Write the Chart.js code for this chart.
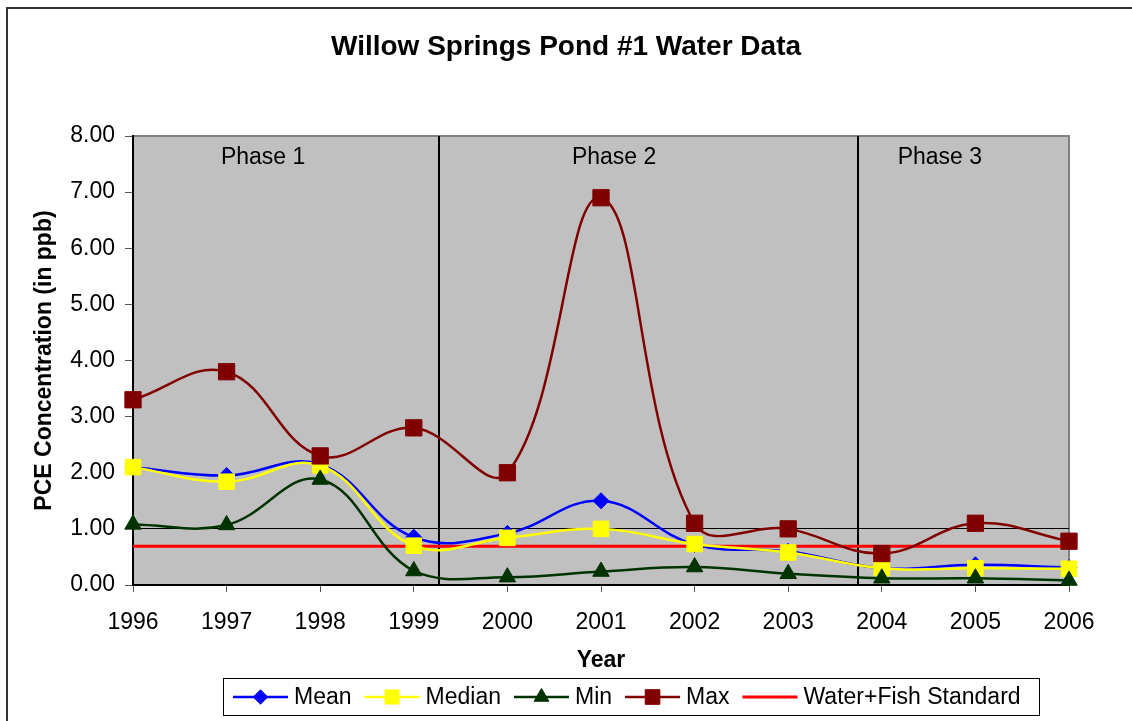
<!DOCTYPE html>
<html>
<head>
<meta charset="utf-8">
<title>Willow Springs Pond #1 Water Data</title>
<script src="https://cdn.jsdelivr.net/npm/chart.js@4.4.1/dist/chart.umd.min.js"></script>
<style>
  html, body { margin: 0; padding: 0; background: #fff; }
  canvas { display: block; }
</style>
</head>
<body>
<canvas id="pondChart" width="1132" height="721"></canvas>
<script>
// DATA
const chartTitle = 'Willow Springs Pond #1 Water Data';
const years = ['1996','1997','1998','1999','2000','2001','2002','2003','2004','2005','2006'];
const meanVals   = [2.10, 1.95, 2.15, 0.85, 0.92, 1.50, 0.72, 0.60, 0.30, 0.36, 0.31];
const medianVals = [2.10, 1.84, 2.13, 0.70, 0.84, 1.00, 0.73, 0.58, 0.30, 0.30, 0.29];
const minVals    = [1.08, 1.07, 1.88, 0.25, 0.14, 0.24, 0.32, 0.20, 0.12, 0.12, 0.08];
const maxVals    = [3.30, 3.80, 2.30, 2.80, 2.00, 6.90, 1.10, 1.00, 0.56, 1.10, 0.78];
const standardVals = [0.69, 0.69, 0.69, 0.69, 0.69, 0.69, 0.69, 0.69, 0.69, 0.69, 0.69];
const yTickValues = [0, 1, 2, 3, 4, 5, 6, 7, 8];
const phaseBounds = [1999.27, 2003.75];   // fractional years
const phaseNames = ['Phase 1', 'Phase 2', 'Phase 3'];

const FONT = "'Liberation Sans', Arial, sans-serif";

// FONDO, MARCO Y TITULO
const frame = {
    id: 'frame',
    beforeDraw(chart) {
        const { ctx, chartArea: a } = chart;
        ctx.save();
        ctx.fillStyle = '#fff';
        ctx.fillRect(0, 0, chart.width, chart.height);
        ctx.strokeStyle = '#333';
        ctx.lineWidth = 2;
        ctx.strokeRect(7, 8, chart.width + 20, chart.height + 20);

        ctx.fillStyle = '#c0c0c0';
        ctx.fillRect(a.left, a.top, a.right - a.left, a.bottom - a.top);
        ctx.strokeStyle = '#808080';
        ctx.strokeRect(a.left, a.top, a.right - a.left, a.bottom - a.top);

        ctx.fillStyle = '#000';
        ctx.font = 'bold 28px ' + FONT;
        ctx.textAlign = 'center';
        ctx.textBaseline = 'middle';
        ctx.fillText(chartTitle, 566, 47);
        ctx.restore();
    }
};

// FASES
const phases = {
    id: 'phases',
    beforeDatasetsDraw(chart, args, opts) {
        const { ctx, chartArea: a, scales: { x } } = chart;
        const first = Number(years[0]);
        ctx.save();
        ctx.strokeStyle = '#000';
        ctx.lineWidth = 2;
        phaseBounds.forEach(b => {
            const px = Math.round(x.getPixelForValue(b - first));
            ctx.beginPath();
            ctx.moveTo(px, a.top);
            ctx.lineTo(px, a.bottom);
            ctx.stroke();
        });
        ctx.fillStyle = '#000';
        ctx.font = '23px ' + FONT;
        ctx.textAlign = 'center';
        ctx.textBaseline = 'middle';
        phaseNames.forEach((name, i) => {
            ctx.fillText(name, x.getPixelForValue(opts.labelAt[i] - first), a.top + 22);
        });
        ctx.restore();
    }
};

// LEYENDA
const boxLegend = {
    id: 'boxLegend',
    afterDraw(chart) {
        const ctx = chart.ctx;
        const cy = 697;
        ctx.save();
        ctx.fillStyle = '#fff';
        ctx.fillRect(223, 678, 816, 37);
        ctx.strokeStyle = '#000';
        ctx.lineWidth = 1;
        ctx.strokeRect(223.5, 678.5, 816, 37);
        ctx.font = '23px ' + FONT;
        ctx.textBaseline = 'middle';
        ctx.textAlign = 'left';
        let x = 233;
        chart.data.datasets.forEach(ds => {
            ctx.strokeStyle = ds.borderColor;
            ctx.fillStyle = ds.backgroundColor;
            ctx.lineWidth = ds.borderWidth;
            ctx.beginPath();
            ctx.moveTo(x, cy);
            ctx.lineTo(x + 55, cy);
            ctx.stroke();
            if (ds.pointRadius > 0) {
                ctx.lineWidth = 1;
                Chart.helpers.drawPoint(ctx, {
                    pointStyle: ds.pointStyle, radius: ds.pointRadius * 0.9,
                    rotation: 0, borderWidth: 1
                }, x + 27.5, cy);
            }
            ctx.fillStyle = '#000';
            ctx.fillText(ds.label, x + 61, cy + 1);
            x += 61 + ctx.measureText(ds.label).width + 13;
        });
        ctx.restore();
    }
};

const ctx = document.getElementById('pondChart');

new Chart(ctx, {
    type: 'line',
    data: {
        labels: years,
        datasets: [
            {
                label: 'Mean', data: meanVals,
                borderColor: '#0000ff', backgroundColor: '#0000ff',
                pointStyle: 'rectRot', pointRadius: 8, pointBorderWidth: 1,
                borderWidth: 2.5, tension: 0.4, clip: false, order: 4
            },
            {
                label: 'Median', data: medianVals,
                borderColor: '#ffff00', backgroundColor: '#ffff00',
                pointStyle: 'rect', pointRadius: 11, pointBorderWidth: 1,
                borderWidth: 2.5, tension: 0.4, clip: false, order: 3
            },
            {
                label: 'Min', data: minVals,
                borderColor: '#003300', backgroundColor: '#003300',
                pointStyle: 'triangle', pointRadius: 9.5, pointBorderWidth: 1,
                borderWidth: 2.5, tension: 0.4, clip: false, order: 2
            },
            {
                label: 'Max', data: maxVals,
                borderColor: '#800000', backgroundColor: '#800000',
                pointStyle: 'rect', pointRadius: 11.5, pointBorderWidth: 1,
                borderWidth: 2.5, tension: 0.4, clip: false, order: 1
            },
            {
                label: 'Water+Fish Standard', data: standardVals,
                borderColor: '#ff0000', backgroundColor: '#ff0000',
                pointRadius: 0, borderWidth: 3, tension: 0, order: 5
            }
        ]
    },
    options: {
        responsive: false,
        animation: false,
        events: [],
        layout: { padding: { left: 0, right: 63, top: 136, bottom: 43 } },
        plugins: {
            legend: { display: false },
            title: { display: false },
            tooltip: { enabled: false },
            phases: { labelAt: [1997.39, 2001.14, 2004.62] }
        },
        scales: {
            x: {
                type: 'category',
                offset: false,
                grid: { drawOnChartArea: false, tickLength: 7, tickColor: '#555' },
                border: { color: '#000', width: 2 },
                ticks: {
                    color: '#000', padding: 17, maxRotation: 0, autoSkip: false,
                    font: { size: 23, family: FONT }
                },
                title: {
                    display: true, text: 'Year', color: '#000',
                    font: { size: 23, weight: 'bold', family: FONT },
                    padding: { top: 0, bottom: 4 }
                },
                afterFit: s => { s.height = 93; }
            },
            y: {
                min: 0, max: 8,
                afterBuildTicks: s => { s.ticks = yTickValues.map(v => ({ value: v })); },
                grid: {
                    color: c => (c.tick && c.tick.value === 1) ? '#000' : 'rgba(0,0,0,0)',
                    tickColor: '#555', tickLength: 8, lineWidth: 1
                },
                border: { color: '#000', width: 2 },
                ticks: {
                    color: '#000', padding: 10,
                    font: { size: 23, family: FONT },
                    callback: v => Number(v).toFixed(2)
                },
                title: {
                    display: true, text: 'PCE Concentration (in ppb)', color: '#000',
                    font: { size: 23, weight: 'bold', family: FONT },
                    padding: { top: 31, bottom: 0 }
                },
                afterFit: s => { s.width = 133; }
            }
        }
    },
    plugins: [frame, phases, boxLegend]
});
</script>
</body>
</html>
